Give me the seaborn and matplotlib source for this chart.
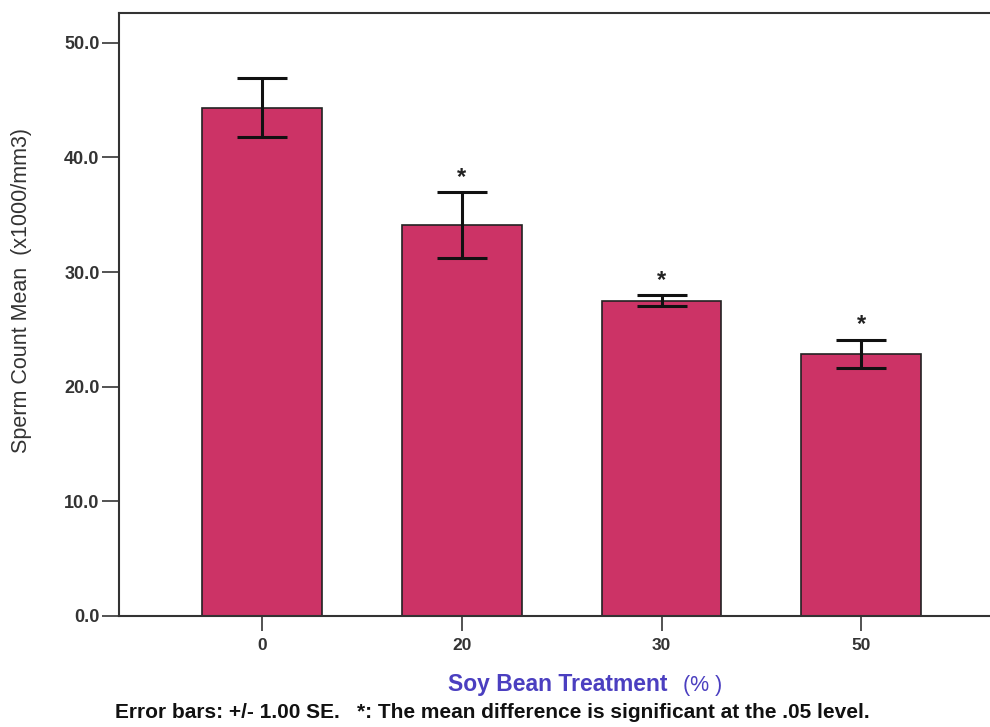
import matplotlib
matplotlib.use("Agg")
import matplotlib.pyplot as plt
import seaborn as sns
import pandas as pd

# Sperm count by soy bean treatment level
treatments = ["0", "20", "30", "50"]
means = [44.35, 34.1, 27.5, 22.85]
se = [2.6, 2.85, 0.5, 1.25]
significant = [False, True, True, True]
yticks = [0.0, 10.0, 20.0, 30.0, 40.0, 50.0]

df = pd.DataFrame({"treatment": treatments, "mean": means})

sns.set_theme(style="white")
plt.rcParams["font.family"] = ["Liberation Sans", "DejaVu Sans"]

fig = plt.figure(figsize=(9.9, 7.27), dpi=100)
ax = fig.add_axes([119 / 990, 1 - 616 / 727, (1005 - 119) / 990, (616 - 13) / 727])

sns.barplot(data=df, x="treatment", y="mean", order=treatments, color="#cc3366",
            saturation=1, width=0.6, edgecolor="#222222", linewidth=1.2,
            errorbar=None, ax=ax)

ax.errorbar(range(len(treatments)), means, yerr=se, fmt="none", ecolor="#111111",
            elinewidth=2.2, capsize=18, capthick=2.2, zorder=5)

for i, (m, s, sig) in enumerate(zip(means, se, significant)):
    if sig:
        ax.text(i, m + s + 1.3, "*", ha="center", va="center", fontsize=17,
                fontweight="bold", color="#222222")

ax.set_xlim(-0.717, 3.72)
ax.set_ylim(0, 52.6)
ax.set_yticks(yticks)
ax.set_yticklabels([f"{v:.1f}" for v in yticks], fontweight="bold", fontsize=13,
                   color="#333333")
ax.set_xticks(range(len(treatments)))
ax.set_xticklabels(treatments, fontweight="bold", fontsize=12.5, color="#333333")
ax.tick_params(axis="y", direction="out", length=12, width=1.3, color="#444444",
               left=True, pad=2)
ax.tick_params(axis="x", direction="out", length=11, width=1.3, color="#444444",
               bottom=True, pad=5)

for side in ["left", "right", "top", "bottom"]:
    ax.spines[side].set_visible(True)
    ax.spines[side].set_color("#333333")
    ax.spines[side].set_linewidth(1.5)

ax.set_xlabel("")
ax.set_ylabel("")
fig.text(22 / 990, 1 - 290 / 727, "Sperm Count Mean  (x1000/mm3)", rotation=90,
         ha="center", va="center", fontsize=15.5, color="#333333")

fig.text(668 / 990, 1 - 685 / 727, "Soy Bean Treatment", ha="right", va="center",
         fontsize=16.5, fontweight="bold", color="#4b3fc0")
fig.text(683 / 990, 1 - 685 / 727, "(% )", ha="left", va="center",
         fontsize=15.5, color="#4b3fc0")
fig.text(115 / 990, 1 - 713 / 727,
         "Error bars: +/- 1.00 SE.   *: The mean difference is significant at the .05 level.",
         ha="left", va="center", fontsize=15, fontweight="bold", color="#111111")

fig.savefig("out.png", dpi=100)
